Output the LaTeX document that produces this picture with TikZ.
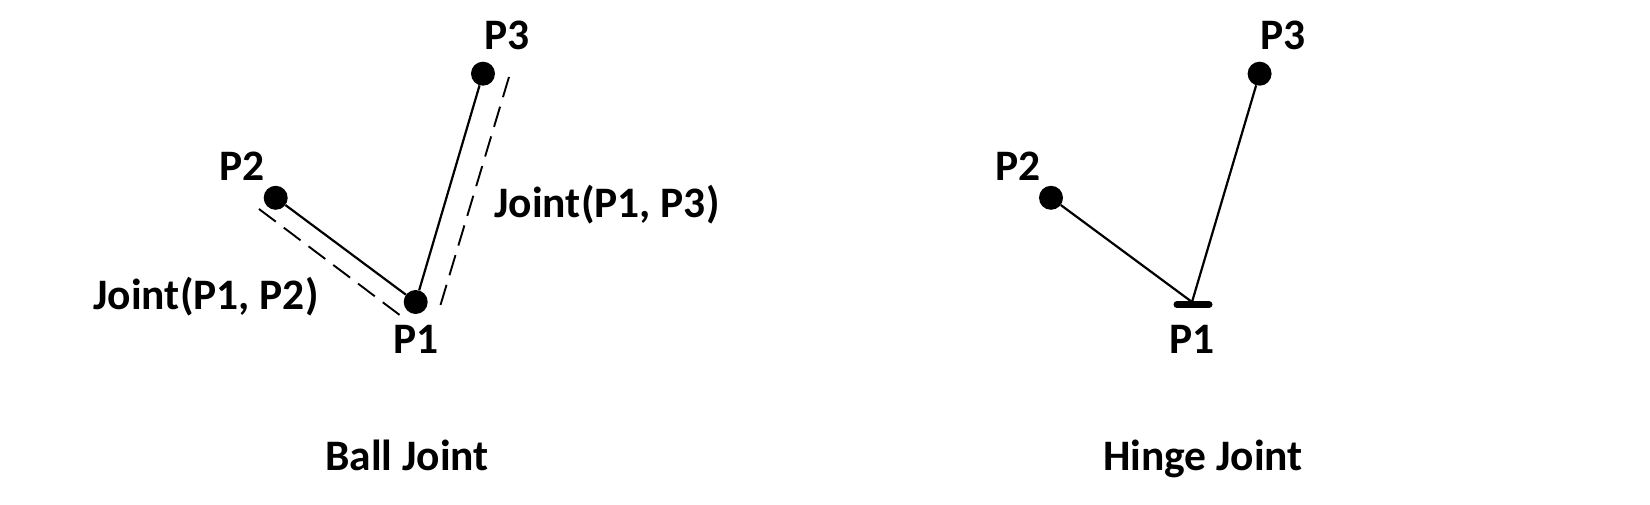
\documentclass[tikz,border=0pt]{standalone}
\usepackage{fontspec}
\setmainfont{Carlito}
\begin{document}
\begin{tikzpicture}[x=1pt,y=-1pt,
  dot/.style={circle,fill=black,draw=none,minimum size=24pt,inner sep=0pt},
  lbl/.style={anchor=base,inner sep=0pt,font=\fontsize{43.5}{50}\selectfont\bfseries},
  bar/.style={line width=2.2pt},
  dsh/.style={line width=1.9pt,dash pattern=on 21pt off 10pt}]
\useasboundingbox (0,0) rectangle (1650,505);
% Ball joint
\node[dot] (p1) at (415.7,302) {};
\node[dot] (p2) at (275.7,197.8) {};
\node[dot] (p3) at (483,73.7) {};
\draw[bar] (p2) -- (p1);
\draw[bar] (p3) -- (p1);
\coordinate (d2a) at (259,209);
\coordinate (d2b) at (401,316);
\coordinate (d3a) at (509,77);
\coordinate (d3b) at (439,310);
\draw[dsh] (d2a) -- (d2b);
\draw[dsh] (d3a) -- (d3b);
\node[lbl] (l3) at (507,49.5) {P3};
\node[lbl] (l2) at (242,181) {P2};
\node[lbl] (l1) at (415.7,353.6) {P1};
\node[lbl] (j13) at (607,218) {Joint(P1, P3)};
\node[lbl] (j12) at (206,309.5) {Joint(P1, P2)};
\node[lbl] (t1) at (407,470) {Ball Joint};
% Hinge joint
\coordinate (h1) at (1192,302);
\node[dot] (h2) at (1051,197.8) {};
\node[dot] (h3) at (1259.6,73.7) {};
\coordinate (hb1) at (1177,304.5);
\coordinate (hb2) at (1209,304.5);
\draw[bar] (h2) -- (h1);
\draw[bar] (h3) -- (h1);
\draw[line width=7pt,line cap=round] (hb1) -- (hb2);
\node[lbl] (m3) at (1283,49.5) {P3};
\node[lbl] (m2) at (1017.6,181) {P2};
\node[lbl] (m1) at (1192,353.6) {P1};
\node[lbl] (t2) at (1203,470) {Hinge Joint};
\end{tikzpicture}
\end{document}
